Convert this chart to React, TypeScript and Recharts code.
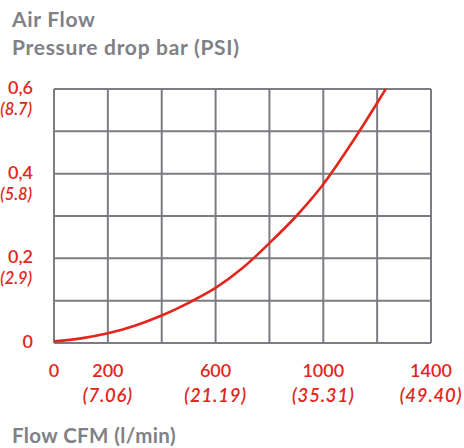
import React from 'react';
import { LineChart, Line, XAxis, YAxis, CartesianGrid } from 'recharts';

const RED = '#e3261c';
const GREY = '#808086';
const GRID = '#7c7c83';
const FONT = 'Lato, "Open Sans", sans-serif';

// flow in l/min and pressure drop in bar
const flow = [0, 100, 200, 300, 400, 500, 600, 700, 800, 900, 1000, 1100, 1200, 1232];
const pressure = [0.004, 0.011, 0.023, 0.041, 0.065, 0.095, 0.13, 0.177, 0.236, 0.3, 0.375, 0.467, 0.567, 0.6];

const xGridTicks = [0, 200, 400, 600, 800, 1000, 1200, 1400];
const xLabelValues = [0, 200, 600, 1000, 1400];
const xLabelCfm = ['', '(7.06)', '(21.19)', '(35.31)', '(49.40)'];

const yGridTicks = [0, 0.1, 0.2, 0.3, 0.4, 0.5, 0.6];
const yLabelValues = [0, 0.2, 0.4, 0.6];
const yLabelBar = ['0', '0,2', '0,4', '0,6'];
const yLabelPsi = ['', '(2.9)', '(5.8)', '(8.7)'];

const data = flow.map((f, i) => ({ flow: f, bar: pressure[i] }));

const XTick = (props: any) => {
  const { x, y, payload } = props;
  const idx = xLabelValues.indexOf(payload.value);
  if (idx < 0) return null;
  return (
    <g>
      <text x={x} y={y + 26} textAnchor="middle" fill={RED} fontSize={18} fontWeight={600} fontFamily={FONT}>
        {String(payload.value)}
      </text>
      {xLabelCfm[idx] && (
        <text x={x} y={y + 51} textAnchor="middle" fill={RED} fontSize={18.5} fontWeight={600} fontStyle="italic" letterSpacing={0.8} fontFamily={FONT}>
          {xLabelCfm[idx]}
        </text>
      )}
    </g>
  );
};

const YTick = (props: any) => {
  const { x, y, payload } = props;
  const idx = yLabelValues.findIndex(v => Math.abs(v - payload.value) < 1e-6);
  if (idx < 0) return null;
  return (
    <g>
      <text x={x - 13} y={y + 5} textAnchor="end" fill={RED} fontSize={18} fontWeight={600} fontFamily={FONT}>
        {yLabelBar[idx]}
      </text>
      {yLabelPsi[idx] && (
        <text x={x - 14} y={y + 26} textAnchor="end" fill={RED} fontSize={16.5} fontWeight={600} fontStyle="italic" fontFamily={FONT}>
          {yLabelPsi[idx]}
        </text>
      )}
    </g>
  );
};

export default function App() {
  return (
    <div style={{ position: 'absolute', left: 0, top: 0, width: 464, height: 448, background: '#fff', fontFamily: FONT }}>
      <div style={{ position: 'absolute', left: 12, top: 5, color: GREY, fontSize: 21, fontWeight: 700, letterSpacing: 0.7, lineHeight: '28px' }}>
        Air Flow
        <br />
        Pressure drop bar (PSI)
      </div>
      <LineChart width={464} height={448} data={data} margin={{ top: 89, right: 33, left: 0, bottom: 0 }}>
        <CartesianGrid stroke={GRID} strokeWidth={2} />
        <XAxis
          dataKey="flow"
          type="number"
          domain={[0, 1400]}
          ticks={xGridTicks}
          axisLine={false}
          tickLine={false}
          height={105}
          tick={<XTick />}
          interval={0}
        />
        <YAxis
          type="number"
          domain={[0, 0.6]}
          ticks={yGridTicks}
          axisLine={false}
          tickLine={false}
          width={54}
          tick={<YTick />}
          interval={0}
        />
        <Line
          type="monotone"
          dataKey="bar"
          stroke={RED}
          strokeWidth={2.6}
          dot={false}
          isAnimationActive={false}
        />
      </LineChart>
      <div style={{ position: 'absolute', left: 12, top: 423, color: GREY, fontSize: 20.5, fontWeight: 700, letterSpacing: 0.4 }}>
        Flow CFM (l/min)
      </div>
    </div>
  );
}
